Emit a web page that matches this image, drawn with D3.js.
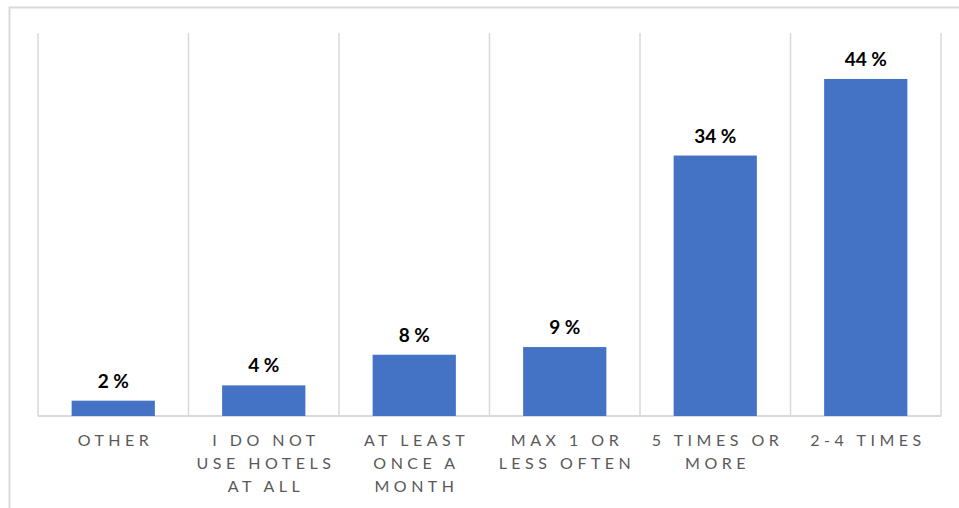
<!DOCTYPE html>
<html>
<head>
<meta charset="utf-8">
<script src="https://cdn.jsdelivr.net/npm/d3@7"></script>
<style>
  html, body { margin: 0; padding: 0; background: #fff; }
  svg { display: block; }
</style>
</head>
<body>
<svg id="chart" width="959" height="508"></svg>
<script>
// Hotel usage frequency, share of respondents
const categories = ["OTHER", "I DO NOT USE HOTELS AT ALL", "AT LEAST ONCE A MONTH", "MAX 1 OR LESS OFTEN", "5 TIMES OR MORE", "2-4 TIMES"];
const categoryLines = [["OTHER"], ["I DO NOT", "USE HOTELS", "AT ALL"], ["AT LEAST", "ONCE A", "MONTH"], ["MAX 1 OR", "LESS OFTEN"], ["5 TIMES OR", "MORE"], ["2-4 TIMES"]];
const values = [2, 4, 8, 9, 34, 44];
const valueLabels = ["2 %", "4 %", "8 %", "9 %", "34 %", "44 %"];

const svg = d3.select("#chart");
const W = 959, H = 508;

// outer chart frame
svg.append("rect")
  .attr("x", 9.5).attr("y", 7.5)
  .attr("width", W + 10).attr("height", H + 10)
  .attr("fill", "none").attr("stroke", "#d9d9d9").attr("stroke-width", 2);

const plot = { left: 38, right: 941, top: 33, bottom: 416 };

const x = d3.scaleBand()
  .domain(categories)
  .range([plot.left, plot.right])
  .paddingInner(0).paddingOuter(0);

const y = d3.scaleLinear()
  .domain([0, 50])
  .range([plot.bottom, plot.top]);

// vertical separators between categories
const edges = categories.map(c => x(c)).concat([plot.right]);
svg.append("g").selectAll("line")
  .data(edges)
  .join("line")
  .attr("x1", d => d).attr("x2", d => d)
  .attr("y1", plot.top).attr("y2", plot.bottom)
  .attr("stroke", "#d9d9d9").attr("stroke-width", 1.5);

// baseline
svg.append("line")
  .attr("x1", plot.left).attr("x2", plot.right)
  .attr("y1", plot.bottom).attr("y2", plot.bottom)
  .attr("stroke", "#d9d9d9").attr("stroke-width", 2);

const barW = x.bandwidth() * 0.553;

svg.append("g").selectAll("rect")
  .data(values)
  .join("rect")
  .attr("x", (d, i) => x(categories[i]) + (x.bandwidth() - barW) / 2)
  .attr("y", d => y(d))
  .attr("width", barW)
  .attr("height", d => plot.bottom - y(d))
  .attr("fill", "#4472c4");

// value labels
svg.append("g").selectAll("text")
  .data(values)
  .join("text")
  .attr("x", (d, i) => x(categories[i]) + x.bandwidth() / 2)
  .attr("y", d => y(d) - 13)
  .attr("text-anchor", "middle")
  .attr("font-family", "Lato, 'Open Sans', sans-serif")
  .attr("font-weight", "bold")
  .attr("font-size", 19)
  .attr("fill", "#000")
  .text((d, i) => valueLabels[i]);

// category labels
const catG = svg.append("g");
categories.forEach((c, i) => {
  const cx = x(c) + x.bandwidth() / 2 + 2.25;
  const t = catG.append("text")
    .attr("x", cx)
    .attr("y", 446)
    .attr("text-anchor", "middle")
    .attr("font-family", "Lato, 'Open Sans', sans-serif")
    .attr("font-size", 16)
    .attr("letter-spacing", "4.5px")
    .attr("fill", "#595959");
  categoryLines[i].forEach((line, j) => {
    t.append("tspan")
      .attr("x", cx)
      .attr("dy", j === 0 ? 0 : 23)
      .text(line);
  });
});
</script>
</body>
</html>
